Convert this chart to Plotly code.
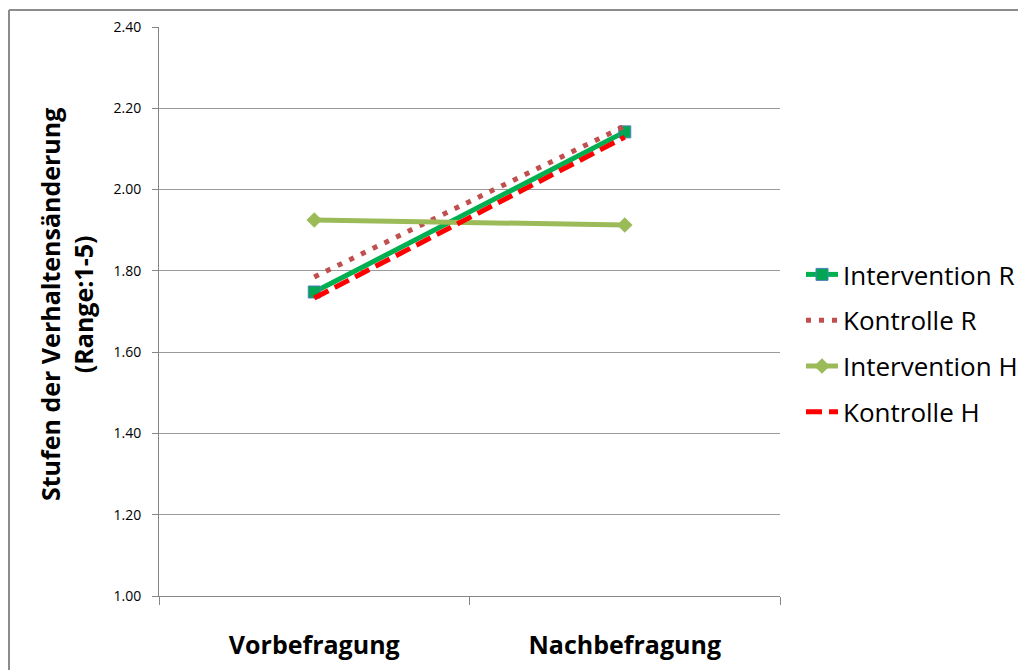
import plotly.graph_objects as go

categories = ["Vorbefragung", "Nachbefragung"]
series_names = ["Intervention R", "Kontrolle R", "Intervention H", "Kontrolle H"]
intervention_r = [1.748, 2.142]
kontrolle_r = [1.785, 2.156]
intervention_h = [1.925, 1.913]
kontrolle_h = [1.733, 2.129]
y_ticks = [1.00, 1.20, 1.40, 1.60, 1.80, 2.00, 2.20, 2.40]

# page has an 8px body margin, so the figure is slightly smaller and shifted
W, H = 1018, 662
L, T = 151, 19
pw, ph = 621, 569
R, B = W - L - pw, H - T - ph
bottom = T + ph  # figure y of plot bottom

def px_x(x):
    return (x - L) / pw

def px_y(y):
    return (bottom - y) / ph

fig = go.Figure()
fig.add_trace(go.Scatter(
    x=categories, y=intervention_r, name=series_names[0], legendgroup="a",
    mode="lines+markers", line=dict(color="#00B050", width=5),
    marker=dict(symbol="square", size=12, color="#00A651", line=dict(color="#4F81BD", width=1))))
fig.add_trace(go.Scatter(
    x=categories, y=kontrolle_r, name=series_names[1], legendgroup="b",
    mode="lines", line=dict(color="#C0504D", width=5, dash="5px,8px")))
fig.add_trace(go.Scatter(
    x=categories, y=intervention_h, name=series_names[2], legendgroup="c",
    mode="lines+markers", line=dict(color="#9BBB59", width=5),
    marker=dict(symbol="diamond", size=12, color="#9BBB59")))
fig.add_trace(go.Scatter(
    x=categories, y=kontrolle_h, name=series_names[3], legendgroup="d",
    mode="lines", line=dict(color="#FF0000", width=5, dash="16px,7px")))

font_family = "Open Sans, Noto Sans, sans-serif"

fig.update_layout(
    width=W, height=H,
    margin=dict(l=L, r=R, t=T, b=B, autoexpand=False),
    paper_bgcolor="white", plot_bgcolor="white",
    font=dict(family=font_family, color="#000000"),
    showlegend=True,
    legend=dict(x=px_x(793), y=px_y(243), xanchor="left", yanchor="top",
                font=dict(size=26, family=font_family), itemwidth=32,
                tracegroupgap=9, bgcolor="rgba(0,0,0,0)"),
    xaxis=dict(type="category", range=[-0.5, 1.5], tickson="boundaries",
               ticks="outside", ticklen=8, tickcolor="#868686",
               showline=True, linecolor="#868686", linewidth=1,
               showgrid=False, ticklabelstandoff=27,
               tickfont=dict(size=25, family=font_family, weight="bold")),
    yaxis=dict(range=[1.0, 2.4], tickvals=y_ticks,
               ticktext=[f"{v:.2f}" for v in y_ticks],
               ticks="outside", ticklen=6, tickcolor="#868686",
               showline=True, linecolor="#868686", linewidth=1,
               showgrid=True, gridcolor="#9a9a9a", gridwidth=1,
               zeroline=False, ticklabelstandoff=8,
               tickfont=dict(size=14, family=font_family)),
    annotations=[dict(
        text="<b>Stufen der Verhaltensänderung<br>(Range:1-5)</b>",
        textangle=-90, xref="paper", yref="paper",
        x=px_x(58), y=px_y(297), xanchor="center", yanchor="middle",
        showarrow=False, font=dict(size=25, family=font_family))],
    shapes=[
        dict(type="line", xref="paper", yref="paper",
             x0=px_x(1), x1=px_x(W + 10), y0=px_y(2), y1=px_y(2),
             line=dict(color="#8c8c8c", width=2)),
        dict(type="line", xref="paper", yref="paper",
             x0=px_x(1), x1=px_x(1), y0=px_y(2), y1=px_y(H + 10),
             line=dict(color="#8c8c8c", width=2)),
    ],
)

fig.write_html("out.html")
